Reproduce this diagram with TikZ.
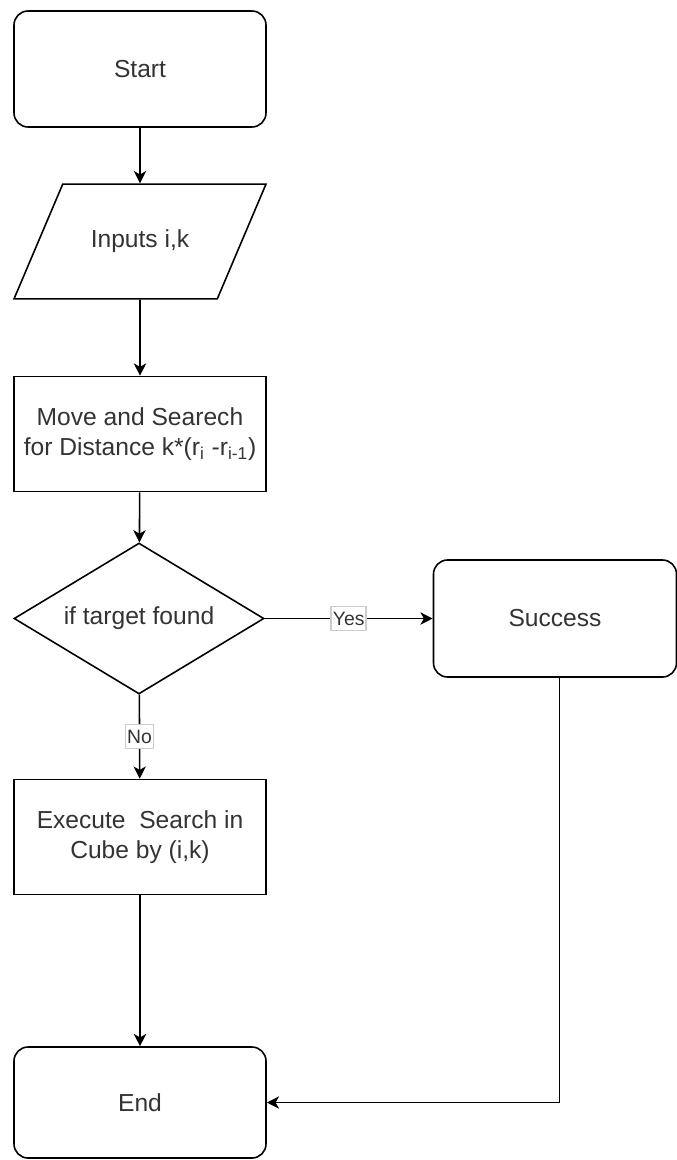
\documentclass[tikz,border=0pt]{standalone}
\usepackage{fontspec}
\setmainfont{Liberation Sans}
\definecolor{fctext}{RGB}{51,51,51}
\usetikzlibrary{arrows.meta,positioning,shapes.geometric}

\begin{document}
\begin{tikzpicture}[
    termbox/.style={draw,rounded corners=8pt,minimum width=5.04cm,minimum height=2.32cm,
      font=\fontsize{14}{17}\selectfont,text=fctext,align=center,line width=0.9pt},
    procbox/.style={draw,minimum width=5.04cm,minimum height=2.3cm,
      font=\fontsize{14}{17}\selectfont,text=fctext,align=center,line width=0.9pt},
    iobox/.style={draw,trapezium,trapezium left angle=67,trapezium right angle=113,
      trapezium stretches body,minimum width=5.04cm,text height=10pt,text depth=3pt,
      inner ysep=0.92cm,font=\fontsize{14}{17}\selectfont,text=fctext,align=center,
      line width=0.9pt},
    decbox/.style={draw,diamond,aspect=1.65,inner sep=0pt,minimum width=5cm,
      minimum height=3.02cm,font=\fontsize{14}{17}\selectfont,text=fctext,
      align=center,line width=0.9pt},
    flow/.style={-{Stealth[length=7pt,width=7pt,inset=2pt]},line width=0.9pt},
    lbl/.style={draw=black!20,fill=white,inner xsep=1pt,inner ysep=3pt,
      font=\fontsize{11}{13}\selectfont,text=fctext}]
  \useasboundingbox (0,0) rectangle (13.54,-23.2);
  % Start
  \node[termbox] (start) at (2.8,-1.38) {Start};
  % Inputs
  \node[iobox] (inputs) at (2.8,-4.83) {Inputs i,k};
  % Move and search
  \node[procbox] (move) at (2.8,-8.68)
    {Move and Searech\\for Distance k*(r\textsubscript{i} -r\textsubscript{i-1})};
  % Decision
  \node[decbox] (found) at (2.78,-12.37) {if target found};
  % Success
  \node[termbox,minimum width=4.86cm,minimum height=2.34cm] (success) at (11.1,-12.37) {Success};
  % Cube search
  \node[procbox] (execute) at (2.8,-16.74) {Execute\ \ Search in\\Cube by (i,k)};
  % End
  \node[termbox,minimum height=2.22cm] (end) at (2.8,-22.05) {End};
  % Arrows
  \draw[flow] (start) -- (inputs);
  \draw[flow] (inputs) -- (move);
  \draw[flow] (move) -- (found);
  \draw[flow] (found) -- node[lbl] {Yes} (success);
  \draw[flow] (found) -- node[lbl] {No} (execute);
  \draw[flow] (execute) -- (end);
  \draw[flow] ([xshift=0.09cm]success.south) |- (end.east);
\end{tikzpicture}
\end{document}
